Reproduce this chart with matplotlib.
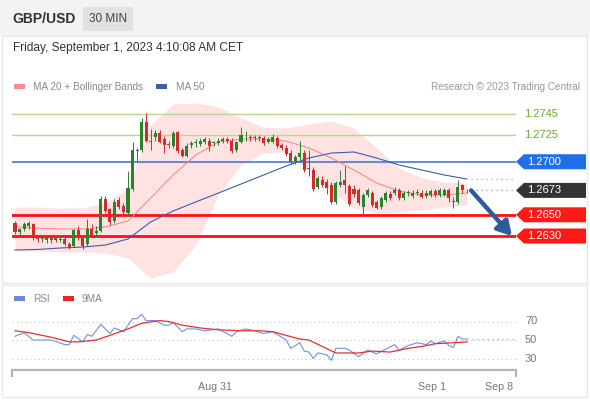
import numpy as np
import matplotlib.pyplot as plt
from matplotlib.patches import Rectangle, Polygon
import matplotlib.transforms as mtransforms

plt.rcParams['font.family'] = ['Liberation Sans', 'DejaVu Sans']

# ---- data (30 min candles, GBP/USD) ----
open_ = [1.2642, 1.2634, 1.2637, 1.2639, 1.2641, 1.2629, 1.2627, 1.2628, 1.2626, 1.2628,
         1.2626, 1.2627, 1.2622, 1.2621, 1.2636, 1.2628, 1.2622, 1.2637, 1.2633, 1.2635,
         1.2665, 1.2655, 1.2644, 1.2664, 1.2658, 1.2652, 1.2674, 1.2710, 1.2711, 1.2737,
         1.2719, 1.2723, 1.2727, 1.2721, 1.2717, 1.2715, 1.2728, 1.2711, 1.2705, 1.2716,
         1.2718, 1.2717, 1.2719, 1.2720, 1.2718, 1.2718, 1.2720, 1.2721, 1.2720, 1.2711,
         1.2719, 1.2723, 1.2723, 1.2722, 1.2723, 1.2722, 1.2719, 1.2719, 1.2722, 1.2716,
         1.2713, 1.2708, 1.2700, 1.2704, 1.2708, 1.2694, 1.2692, 1.2676, 1.2683, 1.2681,
         1.2678, 1.2662, 1.2678, 1.2683, 1.2677, 1.2674, 1.2673, 1.2657, 1.2669, 1.2671,
         1.2662, 1.2657, 1.2664, 1.2670, 1.2671, 1.2673, 1.2666, 1.2671, 1.2668, 1.2671,
         1.2671, 1.2668, 1.2669, 1.2672, 1.2669, 1.2669, 1.2673, 1.2662, 1.2662, 1.2678,
         1.2673]
high = [1.2644, 1.2638, 1.2643, 1.2644, 1.2642, 1.2630, 1.2630, 1.2630, 1.2630, 1.2630,
        1.2631, 1.2629, 1.2624, 1.2637, 1.2639, 1.2630, 1.2646, 1.2641, 1.2639, 1.2668,
        1.2668, 1.2656, 1.2665, 1.2667, 1.2661, 1.2691, 1.2719, 1.2713, 1.2741, 1.2746,
        1.2731, 1.2730, 1.2730, 1.2724, 1.2720, 1.2729, 1.2729, 1.2713, 1.2718, 1.2720,
        1.2721, 1.2722, 1.2723, 1.2722, 1.2720, 1.2722, 1.2723, 1.2723, 1.2722, 1.2720,
        1.2733, 1.2729, 1.2725, 1.2725, 1.2725, 1.2724, 1.2723, 1.2726, 1.2724, 1.2718,
        1.2716, 1.2711, 1.2706, 1.2720, 1.2711, 1.2711, 1.2695, 1.2687, 1.2687, 1.2684,
        1.2681, 1.2682, 1.2692, 1.2696, 1.2679, 1.2678, 1.2675, 1.2671, 1.2675, 1.2672,
        1.2664, 1.2668, 1.2672, 1.2672, 1.2676, 1.2675, 1.2672, 1.2673, 1.2673, 1.2674,
        1.2673, 1.2673, 1.2674, 1.2674, 1.2675, 1.2675, 1.2675, 1.2667, 1.2683, 1.2679,
        1.2674]
low = [1.2632, 1.2631, 1.2635, 1.2637, 1.2626, 1.2624, 1.2624, 1.2623, 1.2623, 1.2624,
       1.2624, 1.2621, 1.2618, 1.2620, 1.2626, 1.2618, 1.2621, 1.2629, 1.2629, 1.2634,
       1.2652, 1.2640, 1.2642, 1.2655, 1.2650, 1.2649, 1.2672, 1.2700, 1.2709, 1.2719,
       1.2711, 1.2720, 1.2718, 1.2708, 1.2713, 1.2713, 1.2708, 1.2704, 1.2704, 1.2713,
       1.2714, 1.2715, 1.2717, 1.2710, 1.2715, 1.2716, 1.2718, 1.2718, 1.2708, 1.2709,
       1.2718, 1.2720, 1.2720, 1.2720, 1.2720, 1.2716, 1.2718, 1.2718, 1.2713, 1.2711,
       1.2705, 1.2698, 1.2698, 1.2702, 1.2690, 1.2687, 1.2672, 1.2674, 1.2676, 1.2670,
       1.2660, 1.2660, 1.2676, 1.2671, 1.2658, 1.2667, 1.2659, 1.2650, 1.2667, 1.2657,
       1.2655, 1.2655, 1.2662, 1.2664, 1.2669, 1.2664, 1.2664, 1.2668, 1.2666, 1.2669,
       1.2666, 1.2666, 1.2667, 1.2667, 1.2667, 1.2668, 1.2662, 1.2656, 1.2660, 1.2671,
       1.2671]
close = [1.2634, 1.2637, 1.2641, 1.2642, 1.2629, 1.2627, 1.2628, 1.2626, 1.2628, 1.2626,
         1.2627, 1.2622, 1.2620, 1.2636, 1.2628, 1.2621, 1.2637, 1.2631, 1.2635, 1.2665,
         1.2654, 1.2643, 1.2662, 1.2657, 1.2653, 1.2675, 1.2711, 1.2711, 1.2737, 1.2720,
         1.2720, 1.2727, 1.2719, 1.2716, 1.2716, 1.2727, 1.2710, 1.2705, 1.2715, 1.2718,
         1.2719, 1.2720, 1.2721, 1.2715, 1.2719, 1.2720, 1.2721, 1.2720, 1.2710, 1.2719,
         1.2725, 1.2723, 1.2722, 1.2723, 1.2722, 1.2718, 1.2721, 1.2723, 1.2715, 1.2713,
         1.2707, 1.2700, 1.2704, 1.2708, 1.2692, 1.2693, 1.2674, 1.2685, 1.2678, 1.2675,
         1.2662, 1.2680, 1.2681, 1.2678, 1.2660, 1.2670, 1.2661, 1.2669, 1.2673, 1.2659,
         1.2656, 1.2666, 1.2671, 1.2666, 1.2673, 1.2666, 1.2671, 1.2671, 1.2671, 1.2671,
         1.2667, 1.2671, 1.2672, 1.2669, 1.2673, 1.2673, 1.2666, 1.2663, 1.2676, 1.2673,
         1.2673]

# indicators read every 5 candles
ind_idx = list(range(0, 101, 5))
ma20 = [1.26385, 1.26375, 1.26366, 1.26366, 1.26385, 1.26441, 1.26658, 1.26875, 1.27064, 1.27186,
        1.27214, 1.27214, 1.27195, 1.27130, 1.27035, 1.26922, 1.26800, 1.26724, 1.26686, 1.26686,
        1.26705]
bb_upper = [1.26573, 1.26573, 1.26564, 1.26564, 1.26611, 1.26752, 1.27345, 1.27544, 1.27554, 1.27520,
            1.27412, 1.27327, 1.27318, 1.27356, 1.27384, 1.27318, 1.27130, 1.26941, 1.26847, 1.26809,
            1.26800]
bb_lower = [1.26159, 1.26159, 1.26149, 1.26149, 1.26140, 1.26093, 1.25904, 1.25961, 1.26215, 1.26686,
            1.26969, 1.27082, 1.27092, 1.26922, 1.26715, 1.26564, 1.26517, 1.26526, 1.26545, 1.26573,
            1.26592]
ma50 = [1.26168, 1.26173, 1.26187, 1.26196, 1.26215, 1.26272, 1.26432, 1.26536, 1.26621, 1.26705,
        1.26790, 1.26875, 1.26960, 1.27035, 1.27082, 1.27092, 1.27035, 1.26969, 1.26922, 1.26875,
        1.26837]

rsi_idx = [0, 2, 4, 6, 8, 11, 12, 13, 15, 16, 17, 19, 21, 22, 24, 26, 27, 28, 29, 31,
           33, 34, 35, 37, 38, 40, 42, 45, 48, 49, 51, 53, 55, 57, 59, 60, 61, 63, 64, 65,
           66, 67, 69, 70, 71, 73, 74, 76, 78, 80, 82, 84, 85, 87, 89, 91, 92, 93, 95, 96,
           97, 98, 99, 100]
rsi = [54, 58, 50, 50, 50, 45, 45, 55, 48, 56, 54, 67, 57, 63, 59, 73, 73, 78, 71, 71,
       66, 66, 69, 59, 62, 62, 60, 62, 54, 59, 62, 60, 57, 59, 53, 50, 41, 47, 38, 37,
       30, 36, 34, 28, 41, 41, 39, 32, 39, 35, 40, 45, 39, 44, 47, 45, 49, 46, 49, 44,
       42, 54, 51, 51]
ma9_idx = [0, 3, 8, 12, 14, 18, 21, 25, 28, 32, 34, 37, 41, 45, 50, 54, 57, 60, 63, 65,
           68, 71, 74, 76, 79, 83, 87, 90, 93, 97, 100]
rsi_ma9 = [60, 58, 53, 48, 48, 50, 55, 62, 68, 71, 70, 66, 63, 61, 60, 60, 59, 55, 51, 50,
           43, 36, 36, 36, 38, 37, 41, 43, 46, 47, 48]

resist = [1.2745, 1.2725]
pivot = 1.2700
supports = [1.2650, 1.2630]
rsi_levels = [70, 50, 30]
date_ticks = [44.3, 92.3, 107.1]
date_labels = ['Aug 31', 'Sep 1', 'Sep 8']

# ---- layout in pixels ----
W, H = 590, 400
PX_PER_PRICE = 10609.0


def fx(x):
    return x / W


def fy(y):
    return 1 - y / H


fig = plt.figure(figsize=(W / 100, H / 100), dpi=100)
fig.patch.set_facecolor('white')

# header bar
fig.patches.append(Rectangle((0, fy(36)), 1, 36 / H, transform=fig.transFigure,
                             facecolor='#f3f3f3', edgecolor='none', zorder=0))
fig.patches.append(Rectangle((fx(83), fy(31)), 50 / W, 24 / H, transform=fig.transFigure,
                             facecolor='#e2e2e2', edgecolor='none', zorder=1))
fig.text(fx(12), fy(19), 'GBP/USD', fontsize=10, fontweight='bold', color='#333333', va='center')
fig.text(fx(108), fy(19), '30 MIN', fontsize=8.5, color='#444444', va='center', ha='center')
fig.text(fx(13), fy(48), 'Friday, September 1, 2023 4:10:08 AM CET', fontsize=8.6,
         color='#333333', va='center')

# panel borders
fig.patches.append(Rectangle((fx(2), fy(283)), 585 / W, 247 / H, transform=fig.transFigure,
                             facecolor='none', edgecolor='#e8e8e8', lw=1, zorder=0))
fig.patches.append(Rectangle((fx(2), fy(397)), 585 / W, 112 / H, transform=fig.transFigure,
                             facecolor='none', edgecolor='#e8e8e8', lw=1, zorder=0))

# legends
fig.patches.append(Rectangle((fx(14), fy(89)), 11 / W, 5 / H, transform=fig.transFigure,
                             facecolor='#ff8c8c', edgecolor='none'))
fig.text(fx(33), fy(86.5), 'MA 20 + Bollinger Bands', fontsize=7.2, color='#888888', va='center')
fig.patches.append(Rectangle((fx(156), fy(89)), 11 / W, 5 / H, transform=fig.transFigure,
                             facecolor='#3b5ea8', edgecolor='none'))
fig.text(fx(176), fy(86.5), 'MA 50', fontsize=7.2, color='#888888', va='center')
fig.text(fx(580), fy(86.5), 'Research \u00a9 2023 Trading Central', fontsize=7.2,
         color='#999999', va='center', ha='right')

fig.patches.append(Rectangle((fx(14), fy(301)), 11 / W, 5 / H, transform=fig.transFigure,
                             facecolor='#6a8ad8', edgecolor='none'))
fig.text(fx(33), fy(298.5), 'RSI', fontsize=7.2, color='#888888', va='center')
fig.patches.append(Rectangle((fx(63), fy(301)), 11 / W, 5 / H, transform=fig.transFigure,
                             facecolor='#ee2222', edgecolor='none'))
fig.text(fx(82), fy(298.5), '9MA', fontsize=7.2, color='#888888', va='center')

# ---- price panel ----
ax = fig.add_axes([fx(12), fy(283), (516 - 12) / W, (283 - 95) / H])
ax.set_facecolor('none')
xmin, xmax = (12 - 15) / 4.52, (516 - 15) / 4.52
ax.set_xlim(xmin, xmax)
ax.set_ylim(1.2745 - (283 - 114) / PX_PER_PRICE, 1.2745 + (114 - 95) / PX_PER_PRICE)
ax.axis('off')

o = np.array(open_)
c = np.array(close)
idx = np.arange(len(c))

ax.fill_between(ind_idx, bb_lower, bb_upper, color='#ffe3e3', lw=0, zorder=1)
ax.plot(ind_idx, ma20, color='#ff8080', lw=0.7, zorder=2)
ax.plot(ind_idx, ma50, color='#3b5ea8', lw=0.8, zorder=2)

for lv in resist:
    ax.axhline(lv, color='#b4d88f', lw=1, zorder=1.5)
ax.axhline(pivot, color='#3d7be0', lw=1.2, zorder=1.5)
for lv in supports:
    ax.axhline(lv, color='#ff1010', lw=2, zorder=1.5)

up = c >= o
cols = np.where(up, '#2b822b', '#d42a2a')
ax.vlines(idx, low, high, colors=cols, lw=0.7, zorder=3)
body = np.maximum(np.abs(c - o), 0.6 / PX_PER_PRICE)
ax.bar(idx, body, bottom=np.minimum(o, c), width=0.68, color=cols, lw=0, zorder=4)

# dotted guides to the labels
last = len(c) - 1
ax.plot([last + 0.8, xmax], [c[-1], c[-1]], ls=(0, (1, 3)), color='#999999', lw=0.9)
ax.plot([last + 0.8, xmax], [ma50[-1], ma50[-1]], ls=(0, (1, 3)), color='#aaaaaa', lw=0.9)

# arrow to target
ax.annotate('', xy=(xmax - 0.9, supports[1]), xytext=(last + 0.9, c[-1]),
            arrowprops=dict(arrowstyle='-|>,head_length=0.6,head_width=0.35',
                            mutation_scale=14, lw=3.2, color='#2e5c9a',
                            shrinkA=0, shrinkB=0),
            annotation_clip=False, zorder=6)

# price labels on the right
tr = mtransforms.blended_transform_factory(fig.transFigure, ax.transData)
hh = 7.5 / PX_PER_PRICE


def tag(y, text, color):
    pts = [(fx(516), y), (fx(524), y + hh), (fx(586), y + hh), (fx(586), y - hh), (fx(524), y - hh)]
    ax.add_patch(Polygon(pts, closed=True, transform=tr, facecolor=color,
                         edgecolor='none', clip_on=False, zorder=5))
    ax.text(fx(527), y, text, transform=tr, color='white', fontsize=8, va='center',
            clip_on=False, zorder=6)


for lv in resist:
    ax.text(fx(524), lv, f'{lv:.4f}', transform=tr, color='#6aaa2e', fontsize=8,
            va='center', clip_on=False)
tag(pivot, f'{pivot:.4f}', '#1f6fe8')
tag(c[-1], f'{c[-1]:.4f}', '#333333')
for lv in supports:
    tag(lv, f'{lv:.4f}', '#ff1a1a')

# ---- RSI panel ----
ax2 = fig.add_axes([fx(12), fy(370), (516 - 12) / W, (370 - 290) / H])
ax2.set_facecolor('none')
ax2.set_xlim(xmin, xmax)
ax2.set_ylim(50 - 30 / 0.925, 50 + 50 / 0.925)
for s in ['top', 'left', 'right']:
    ax2.spines[s].set_visible(False)
ax2.spines['bottom'].set_color('#b3b3b3')
ax2.spines['bottom'].set_linewidth(1.6)
ax2.set_yticks([])
ax2.set_xticks(date_ticks, date_labels)
ax2.tick_params(axis='x', length=0, pad=9, labelsize=7.7, labelcolor='#777777')
ax2.set_xticks([xmin, xmax], minor=True)
ax2.tick_params(axis='x', which='minor', length=5, width=1.6, color='#b3b3b3')

for lv in rsi_levels:
    ax2.axhline(lv, color='#c4c4c4', lw=0.8, ls=(0, (1, 3)))
    ax2.text(fx(525), lv, str(lv), transform=mtransforms.blended_transform_factory(
        fig.transFigure, ax2.transData), fontsize=8, color='#777777', va='center')

ax2.plot(rsi_idx, rsi, color='#7090e0', lw=0.8)
ax2.plot(ma9_idx, rsi_ma9, color='#e83030', lw=0.9)
ax2.plot([rsi_idx[-1], xmax], [rsi[-1], rsi[-1]], ls=(0, (1, 3)), color='#9aaee0', lw=0.9)

fig.savefig('out.png', dpi=100)
